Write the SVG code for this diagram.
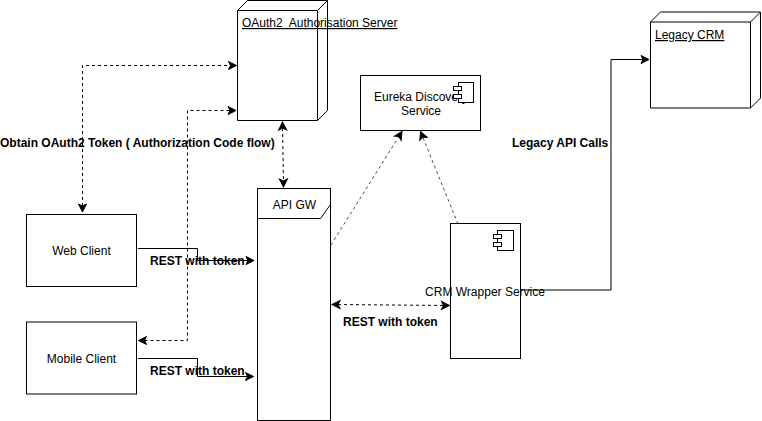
<svg xmlns="http://www.w3.org/2000/svg" width="762" height="421" viewBox="0 0 762 421">
<style>
text{font-family:"Liberation Sans",Arial,sans-serif;font-size:12px;fill:#000}
.b{font-weight:bold}
.m{text-anchor:middle}
.s{fill:#fff;stroke:#000;stroke-width:1}
.f{fill:none;stroke:#000;stroke-width:1}
.c{fill:none;stroke:#000;stroke-width:1}
.d{stroke-dasharray:3 3}
.t{stroke-dasharray:3 3;stroke-width:.7}
</style>
<defs>
<marker id="a" markerUnits="userSpaceOnUse" markerWidth="12" markerHeight="10" refX="8" refY="5" orient="auto-start-reverse" overflow="visible">
<path d="M0 1 L8 5 L0 9 L2 5 Z" fill="#000" stroke="#000" stroke-width="1"/>
</marker>
</defs>
<rect width="762" height="421" fill="#fff"/>
<g id="connectors">
<path class="c d" d="M82.500 212V65.500H236.500" marker-start="url(#a)" marker-end="url(#a)"/>
<path class="c d" d="M138.500 340.500H187.500V110.500H236" marker-start="url(#a)" marker-end="url(#a)"/>
<path class="c d" d="M282.500 122L283.500 187" marker-start="url(#a)" marker-end="url(#a)"/>
<path class="c t" d="M331 245L402 131.500" marker-end="url(#a)"/>
<path class="c t" d="M458 224L420.500 131.500" marker-end="url(#a)"/>
<path class="c d" d="M332 304.500L449.500 305.500" marker-start="url(#a)" marker-end="url(#a)"/>
<path class="c" d="M138 248.500H197.500V260.500H254" marker-end="url(#a)"/>
<path class="c" d="M138 358.500H197.500V376.500H253.500" marker-end="url(#a)"/>
<path class="c" d="M520 290H611V59.500H649" marker-end="url(#a)"/>
</g>
<g id="oauth">
<path class="s" d="M237.500 10.500L247.500 .5H327.500V110.500L317.500 120.500H237.500Z"/>
<path class="f" d="M237.500 10.500H317.500V120.500M317.500 10.500L327.500 .5"/>
<text x="242" y="27" text-decoration="underline" xml:space="preserve">OAuth2  Authorisation Server</text>
</g>
<g id="eureka">
<rect class="s" x="360.500" y="75.500" width="120" height="55"/>
<text class="m" x="421" y="101">Eureka Discovery</text>
<text class="m" x="421" y="115">Service</text>
<rect class="s" x="458.500" y="82.500" width="15" height="20"/>
<rect class="s" x="453.500" y="86.500" width="8" height="4"/>
<rect class="s" x="453.500" y="94.500" width="8" height="4"/>
</g>
<g id="legacy">
<path class="s" d="M650.500 22L660.500 12H760.500V98L750.500 108H650.500Z"/>
<path class="f" d="M650.500 22H750.500V108M750.500 22L760.500 12"/>
<text x="655" y="39" text-decoration="underline">Legacy CRM</text>
</g>
<g id="web-client">
<rect class="s" x="26.500" y="214.500" width="110" height="72"/>
<text class="m" x="81.500" y="255">Web Client</text>
</g>
<g id="mobile-client">
<rect class="s" x="26.500" y="322" width="110" height="72"/>
<text class="m" x="81.500" y="363">Mobile Client</text>
</g>
<g id="api-gw">
<rect class="s" x="257.500" y="188.500" width="73" height="232"/>
<path class="f" d="M257.500 218.500H320.500L330.500 204.500"/>
<text class="m" x="294.500" y="209">API GW</text>
</g>
<g id="crm-wrapper">
<rect class="s" x="450.500" y="223.500" width="70" height="135"/>
<rect class="s" x="497.500" y="230.500" width="16" height="20"/>
<rect class="s" x="493.500" y="234.500" width="8" height="4"/>
<rect class="s" x="493.500" y="242.500" width="8" height="4"/>
<text class="m" x="485" y="296">CRM Wrapper Service</text>
</g>
<g id="labels">
<text class="b" x="0" y="147">Obtain OAuth2 Token ( Authorization Code flow)</text>
<text class="b" x="150" y="265">REST with token</text>
<text class="b" x="150" y="375">REST with token</text>
<text class="b" x="343" y="326">REST with token</text>
<text class="b" x="512" y="147">Legacy API Calls</text>
</g>
</svg>
